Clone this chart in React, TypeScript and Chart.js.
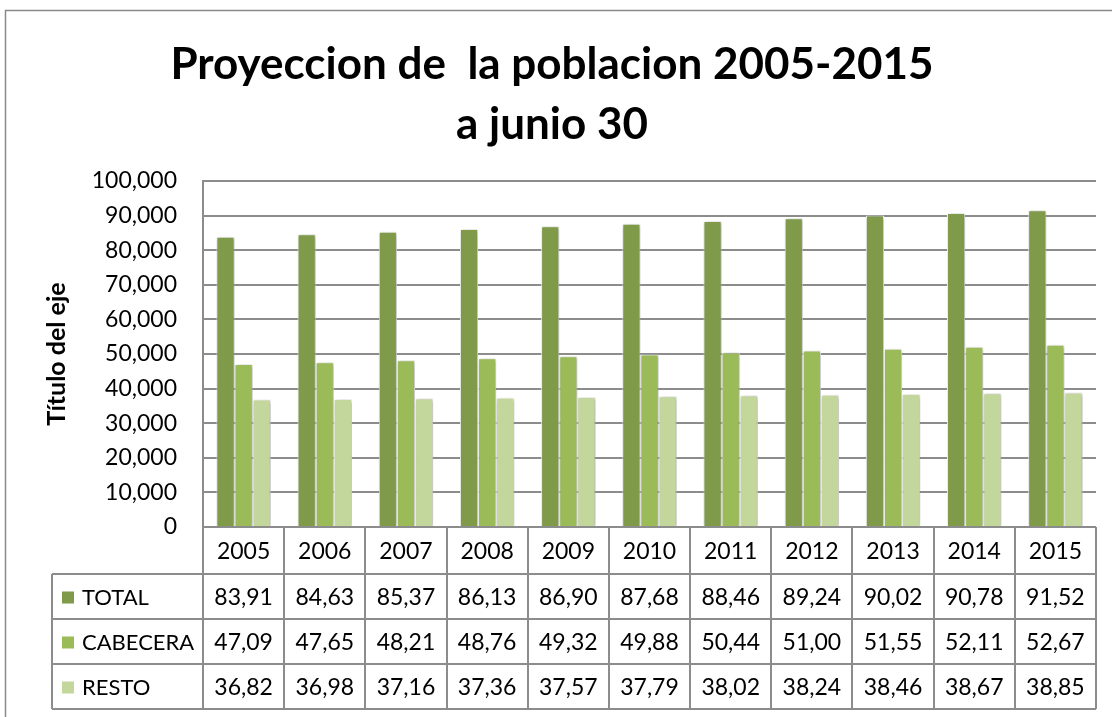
import React, { useEffect, useRef } from "react";
import { Chart, registerables } from "chart.js";

Chart.register(...registerables);

const years = ["2005", "2006", "2007", "2008", "2009", "2010", "2011", "2012", "2013", "2014", "2015"];
const totalValues = [83910, 84630, 85370, 86130, 86900, 87680, 88460, 89240, 90020, 90780, 91520];
const cabeceraValues = [47090, 47650, 48210, 48760, 49320, 49880, 50440, 51000, 51550, 52110, 52670];
const restoValues = [36820, 36980, 37160, 37360, 37570, 37790, 38020, 38240, 38460, 38670, 38850];
const seriesNames = ["TOTAL", "CABECERA", "RESTO"];
const seriesColors = ["#7F9A48", "#9BBB59", "#C3D69B"];
const titleLines = ["Proyeccion de  la poblacion 2005-2015", "a junio 30"];
const yAxisTitle = "Título del eje";
const yMin = 0;
const yMax = 100000;
const yStep = 10000;

const FONT = "Lato";
const LINE = "#8c8c8c";

function tableLabel(v: number): string {
  return (v / 1000).toFixed(2).replace(".", ",");
}

const framePlugin = {
  id: "frame",
  beforeDraw(chart: any) {
    const { ctx, width, height } = chart;
    ctx.save();
    ctx.fillStyle = "#ffffff";
    ctx.fillRect(0, 0, width, height);
    ctx.strokeStyle = "#8a8a8a";
    ctx.lineWidth = 1.5;
    ctx.beginPath();
    ctx.moveTo(5.5, height);
    ctx.lineTo(5.5, 10.5);
    ctx.lineTo(width, 10.5);
    ctx.stroke();
    ctx.restore();
  },
};

const shadowPlugin = {
  id: "barShadow",
  beforeDatasetsDraw(chart: any) {
    const ctx = chart.ctx;
    ctx.save();
    ctx.shadowColor = "rgba(0,0,0,0.35)";
    ctx.shadowBlur = 4;
    ctx.shadowOffsetX = 1;
    ctx.shadowOffsetY = 1;
  },
  afterDatasetsDraw(chart: any) {
    chart.ctx.restore();
  },
};

const tablePlugin = {
  id: "dataTable",
  afterDraw(chart: any) {
    const { ctx, chartArea } = chart;
    const xScale = chart.scales.x;
    const n = years.length;
    const left = chartArea.left;
    const right = chartArea.right;
    const cw = (right - left) / n;
    const top = chartArea.bottom;
    const headerH = 47;
    const rowH = 45;
    const legendLeft = 52;
    const rowsTop = top + headerH;
    const bottom = rowsTop + rowH * seriesNames.length;
    const seriesData = [totalValues, cabeceraValues, restoValues];

    ctx.save();
    ctx.strokeStyle = LINE;
    ctx.lineWidth = 2;
    ctx.beginPath();
    for (let i = 0; i <= n; i++) {
      const x = Math.round(left + i * cw);
      ctx.moveTo(x, top);
      ctx.lineTo(x, bottom);
    }
    ctx.moveTo(legendLeft, rowsTop);
    ctx.lineTo(legendLeft, bottom);
    ctx.moveTo(left, top);
    ctx.lineTo(right, top);
    for (let r = 0; r <= seriesNames.length; r++) {
      const y = Math.round(rowsTop + r * rowH);
      ctx.moveTo(legendLeft, y);
      ctx.lineTo(right, y);
    }
    ctx.stroke();

    ctx.fillStyle = "#000000";
    ctx.font = `23px ${FONT}`;
    ctx.textAlign = "center";
    ctx.textBaseline = "middle";
    for (let i = 0; i < n; i++) {
      const cx = xScale.getPixelForValue(i);
      ctx.fillText(years[i], cx, top + headerH / 2 + 1);
      for (let s = 0; s < seriesData.length; s++) {
        ctx.fillText(tableLabel(seriesData[s][i]), cx, rowsTop + s * rowH + rowH / 2 + 1);
      }
    }
    ctx.textAlign = "left";
    ctx.font = `22px ${FONT}`;
    for (let s = 0; s < seriesNames.length; s++) {
      const cy = rowsTop + s * rowH + rowH / 2;
      ctx.fillStyle = seriesColors[s];
      ctx.fillRect(legendLeft + 10, cy - 5, 12, 12);
      ctx.fillStyle = "#000000";
      ctx.fillText(seriesNames[s], legendLeft + 30, cy + 1);
    }
    ctx.restore();
  },
};

export default function App() {
  const canvasRef = useRef<HTMLCanvasElement | null>(null);

  useEffect(() => {
    if (!canvasRef.current) return;
    const chart = new Chart(canvasRef.current, {
      type: "bar",
      data: {
        labels: years,
        datasets: [
          { label: seriesNames[0], data: totalValues, backgroundColor: seriesColors[0] },
          { label: seriesNames[1], data: cabeceraValues, backgroundColor: seriesColors[1] },
          { label: seriesNames[2], data: restoValues, backgroundColor: seriesColors[2] },
        ].map((d) => ({
          ...d,
          borderColor: "#ffffff",
          borderWidth: 1,
          barPercentage: 1,
          categoryPercentage: 0.67,
        })),
      },
      options: {
        animation: false,
        responsive: false,
        devicePixelRatio: 1,
        layout: { padding: { left: 8, right: 16, top: 0, bottom: 190 } },
        plugins: {
          legend: { display: false },
          tooltip: { enabled: false },
          title: {
            display: true,
            text: titleLines,
            color: "#000000",
            font: { family: FONT, size: 44, weight: "bold", lineHeight: 1.364 },
            padding: { top: 35, bottom: 26 },
          },
        },
        scales: {
          x: { display: false },
          y: {
            min: yMin,
            max: yMax,
            ticks: {
              stepSize: yStep,
              color: "#000000",
              font: { family: FONT, size: 23 },
              padding: 26,
              callback: (v: any) => Number(v).toLocaleString("en-US"),
            },
            grid: { color: LINE, lineWidth: 2, drawTicks: false },
            border: { display: true, color: LINE, width: 2 },
            title: {
              display: true,
              text: yAxisTitle,
              color: "#000000",
              font: { family: FONT, size: 25, weight: "bold", lineHeight: 1.2 },
              padding: { top: 34, bottom: 0 },
            },
            afterFit: (scale: any) => {
              scale.width = 195;
            },
          },
        },
      },
      plugins: [framePlugin, shadowPlugin, tablePlugin],
    });
    return () => chart.destroy();
  }, []);

  return (
    <div style={{ position: "absolute", left: 0, top: 0, width: 1112, height: 717 }}>
      <canvas ref={canvasRef} width={1112} height={717} />
    </div>
  );
}
